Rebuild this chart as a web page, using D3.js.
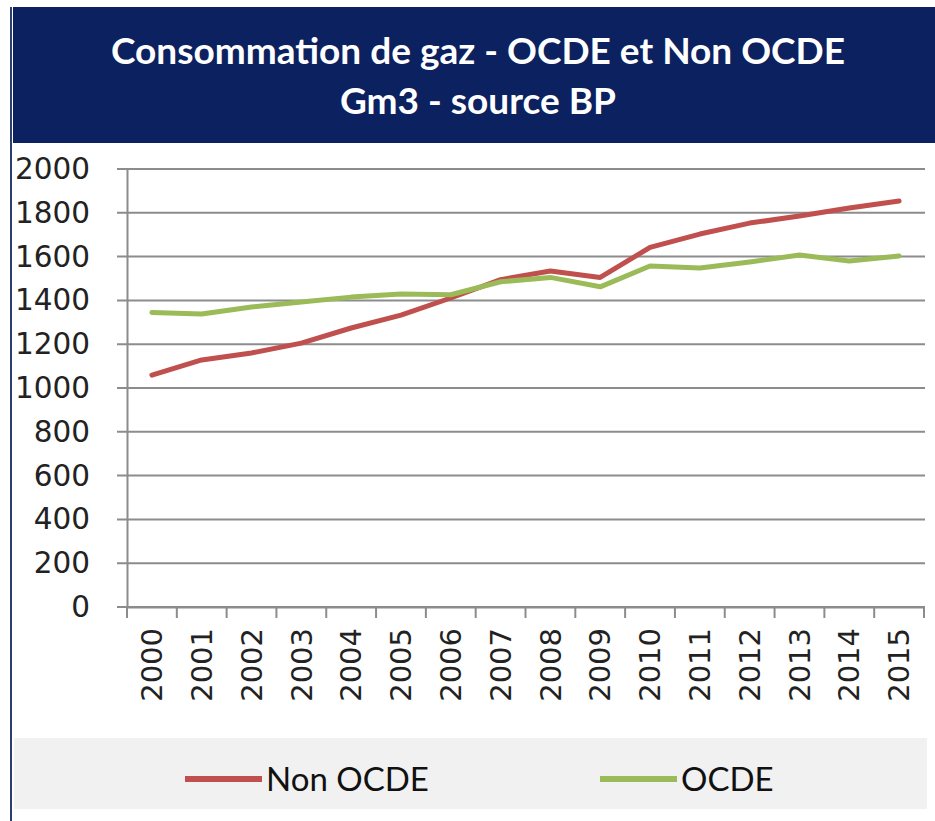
<!DOCTYPE html>
<html>
<head>
<meta charset="utf-8">
<script src="https://cdn.jsdelivr.net/npm/d3@7"></script>
<style>
  body { margin: 0; background: #fff; }
</style>
</head>
<body>
<div id="chart"></div>
<script>
// Data
const years = ["2000","2001","2002","2003","2004","2005","2006","2007","2008","2009","2010","2011","2012","2013","2014","2015"];
const nonOcde = [1059, 1128, 1160, 1205, 1274, 1333, 1411, 1495, 1534, 1505, 1642, 1703, 1753, 1785, 1822, 1854];
const ocde = [1345, 1338, 1370, 1393, 1415, 1429, 1426, 1485, 1505, 1462, 1557, 1548, 1575, 1607, 1580, 1603];
const yTicks = [0, 200, 400, 600, 800, 1000, 1200, 1400, 1600, 1800, 2000];
const seriesNames = ["Non OCDE", "OCDE"];
const colors = ["#c0504d", "#9bbb59"];

const W = 935, H = 821;
const plot = {left: 127, right: 924, top: 169, bottom: 607};

const svg = d3.select("#chart")
    .append("svg")
    .attr("width", W)
    .attr("height", H);

// Title box
svg.append("rect")
    .attr("x", 13).attr("y", 7)
    .attr("width", W - 13).attr("height", 136)
    .style("fill", "#0c2160");

svg.append("line")
    .attr("x1", 11).attr("x2", 11)
    .attr("y1", 7).attr("y2", H)
    .style("stroke", "#2a3f6e")
    .style("stroke-width", 2);

const titleLines = ["Consommation de gaz - OCDE et Non OCDE", "Gm3 - source BP"];
svg.selectAll(".title")
    .data(titleLines)
    .enter().append("text")
    .attr("class", "title")
    .attr("x", 478)
    .attr("y", (d, i) => 64 + i * 50)
    .attr("text-anchor", "middle")
    .style("font-family", "Lato, 'Open Sans', sans-serif")
    .style("font-weight", "bold")
    .style("font-size", "37px")
    .style("fill", "#fff")
    .text(d => d);

// Scales
const x = d3.scaleBand()
    .domain(years)
    .range([plot.left, plot.right])
    .padding(0);

const y = d3.scaleLinear()
    .domain([0, 2000])
    .range([plot.bottom, plot.top]);

// Gridlines
svg.append("g")
    .selectAll("line")
    .data(yTicks)
    .enter().append("line")
    .attr("x1", plot.left - 10)
    .attr("x2", plot.right + 1)
    .attr("y1", d => y(d))
    .attr("y2", d => y(d))
    .style("stroke", "#8c8c8c")
    .style("stroke-width", 2);

// Y axis
const yAxis = d3.axisLeft(y).tickValues(yTicks).tickFormat(d3.format("d")).tickSize(0).tickPadding(37);
svg.append("g")
    .attr("class", "y axis")
    .attr("transform", "translate(" + plot.left + ",0)")
    .call(yAxis)
    .call(g => g.select(".domain").style("stroke", "#8c8c8c").style("stroke-width", 2))
    .call(g => g.selectAll("text")
        .style("font-family", "'DejaVu Sans', sans-serif")
        .style("font-size", "29.5px")
        .style("fill", "#222"));

// X axis: ticks sit between categories
const xAxis = d3.axisBottom(x).tickSize(0).tickFormat("");
svg.append("g")
    .attr("class", "x axis")
    .attr("transform", "translate(0," + plot.bottom + ")")
    .call(xAxis)
    .call(g => g.select(".domain").style("stroke", "#8c8c8c").style("stroke-width", 2));

const boundaries = years.map(d => x(d)).concat([plot.right]);
svg.append("g")
    .selectAll("line")
    .data(boundaries)
    .enter().append("line")
    .attr("x1", d => d).attr("x2", d => d)
    .attr("y1", plot.bottom).attr("y2", plot.bottom + 11)
    .style("stroke", "#8c8c8c")
    .style("stroke-width", 2);

svg.append("g")
    .selectAll("text")
    .data(years)
    .enter().append("text")
    .attr("transform", d => "translate(" + (x(d) + x.bandwidth() / 2) + "," + (plot.bottom + 21) + ") rotate(-90)")
    .attr("dy", ".35em")
    .attr("text-anchor", "end")
    .style("font-family", "'DejaVu Sans', sans-serif")
    .style("font-size", "29px")
    .style("fill", "#222")
    .text(d => d);

// Lines
const line = d3.line()
    .x((d, i) => x(years[i]) + x.bandwidth() / 2)
    .y(d => y(d));

[nonOcde, ocde].forEach((s, k) => {
    svg.append("path")
        .datum(s)
        .attr("d", line)
        .style("fill", "none")
        .style("stroke", colors[k])
        .style("stroke-width", 5)
        .style("stroke-linejoin", "round")
        .style("stroke-linecap", "round");
});

// Legend
svg.append("rect")
    .attr("x", 14).attr("y", 738)
    .attr("width", 913).attr("height", 71)
    .style("fill", "#f1f1f1");

const legendX = [185, 600];
const legend = svg.selectAll(".legend")
    .data(seriesNames)
    .enter().append("g")
    .attr("class", "legend")
    .attr("transform", (d, i) => "translate(" + legendX[i] + ",779)");

legend.append("line")
    .attr("x1", 0).attr("x2", 77)
    .style("stroke", (d, i) => colors[i])
    .style("stroke-width", 6);

legend.append("text")
    .attr("x", 81)
    .attr("dy", "0.36em")
    .style("font-family", "Lato, 'Open Sans', sans-serif")
    .style("font-size", "33px")
    .style("fill", "#111")
    .text(d => d);
</script>
</body>
</html>
